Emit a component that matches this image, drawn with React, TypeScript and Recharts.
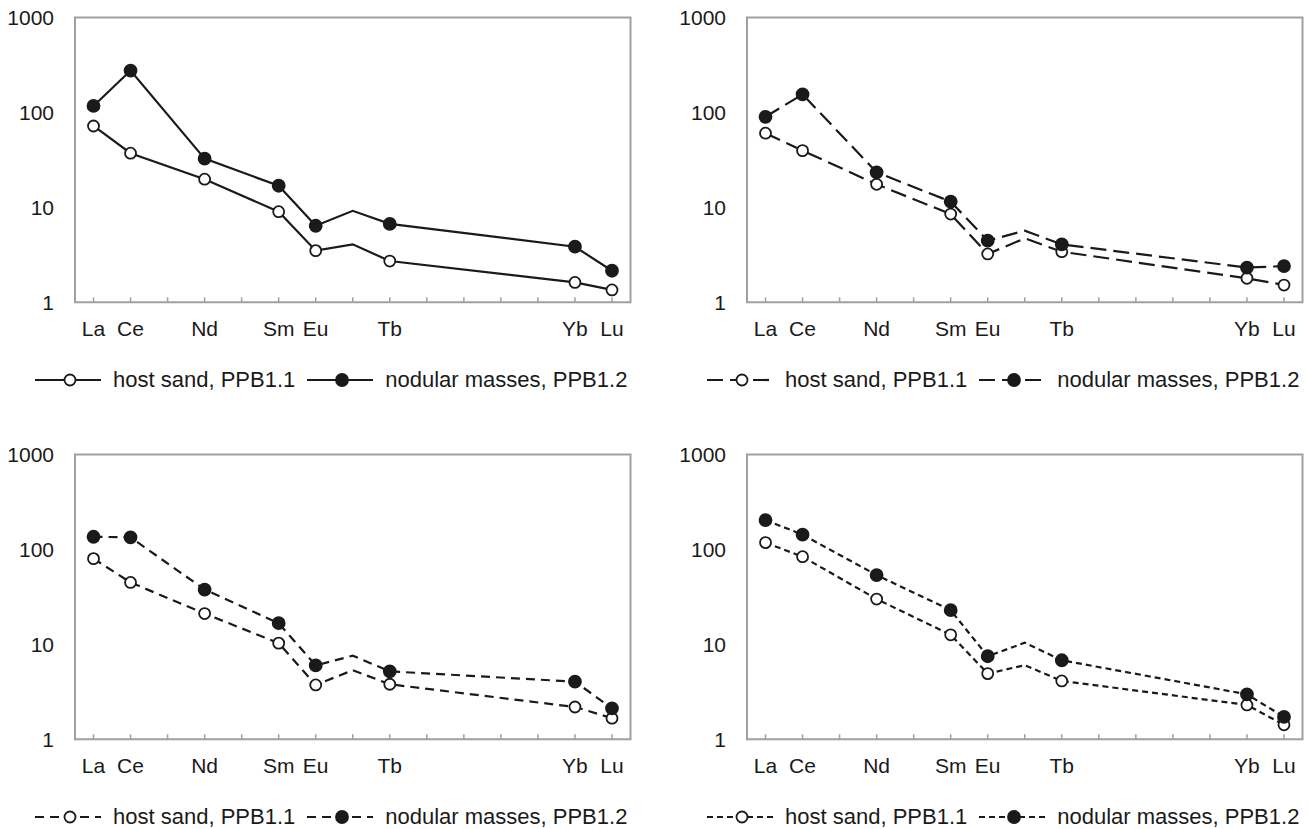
import React from 'react';
import { LineChart, Line, XAxis, YAxis, ReferenceArea, Legend } from 'recharts';

// ---- data ----
const ELEMENTS = ['La', 'Ce', 'Pr', 'Nd', 'Pm', 'Sm', 'Eu', 'Gd', 'Tb', 'Dy', 'Ho', 'Er', 'Tm', 'Yb', 'Lu'];
const TICK_LABELS = ['La', 'Ce', '', 'Nd', '', 'Sm', 'Eu', '', 'Tb', '', '', '', '', 'Yb', 'Lu'];
const Y_TICKS = [1, 10, 100, 1000];
const SERIES_NAMES = ['host sand, PPB1.1', 'nodular masses, PPB1.2'];

const P1_HOST = [72, 37.2, null, 19.8, null, 9.0, 3.5, 4.08, 2.72, null, null, null, null, 1.62, 1.35];
const P1_NOD = [117, 276, null, 32.6, null, 16.9, 6.4, 9.2, 6.7, null, null, null, null, 3.85, 2.15];

const P2_HOST = [60.4, 39.6, null, 17.5, null, 8.5, 3.23, 4.72, 3.41, null, null, null, null, 1.79, 1.52];
const P2_NOD = [90, 155, null, 23.4, null, 11.5, 4.46, 5.68, 4.08, null, null, null, null, 2.32, 2.41];

const P3_HOST = [80, 44.9, null, 21.1, null, 10.3, 3.74, 5.34, 3.8, null, null, null, null, 2.19, 1.67];
const P3_NOD = [136, 134, null, 37.8, null, 16.7, 6.0, 7.6, 5.2, null, null, null, null, 4.05, 2.12];

const P4_HOST = [118, 83.8, null, 30, null, 12.6, 4.92, 6.03, 4.12, null, null, null, null, 2.3, 1.42];
const P4_NOD = [204, 143, null, 53.7, null, 22.9, 7.5, 10.4, 6.8, null, null, null, null, 2.98, 1.72];

// ---- styling ----
const INK = '#1a1a1a';
const FRAME = '#a0a0a0';
const FONT = '"Liberation Sans", Arial, Helvetica, sans-serif';
const CHART_W = 637;
const CHART_H = 392;

type Val = number | null;
type Panel = { host: Val[]; nod: Val[]; dash?: string; left: number; top: number };

const PANELS: Panel[] = [
  { host: P1_HOST, nod: P1_NOD, dash: undefined, left: 0, top: 0 },
  { host: P2_HOST, nod: P2_NOD, dash: '16 7', left: 672, top: 0 },
  { host: P3_HOST, nod: P3_NOD, dash: '9 6', left: 0, top: 436.5 },
  { host: P4_HOST, nod: P4_NOD, dash: '6 4', left: 672, top: 436.5 },
];

const buildRows = (host: Val[], nod: Val[]) =>
  ELEMENTS.map((el, i) => ({ x: i + 1, el, host: host[i], nod: nod[i] }));

const makeDot = (filled: boolean, key: string) => (props: any) => {
  const { cx, cy, index, payload } = props;
  if (cx == null || cy == null || !payload || payload[key] == null || payload.el === 'Gd') {
    return <g key={`e-${key}-${index}`} />;
  }
  return (
    <circle
      key={`d-${key}-${index}`}
      cx={cx}
      cy={cy}
      r={filled ? 6 : 5.5}
      fill={filled ? INK : '#ffffff'}
      stroke={INK}
      strokeWidth={1.8}
    />
  );
};

const XTick = (props: any) => {
  const { x, y, payload } = props;
  const label = TICK_LABELS[payload.value - 1] ?? '';
  return (
    <g>
      <line x1={x} x2={x} y1={y} y2={y - 5} stroke={FRAME} strokeWidth={1.5} />
      {label ? (
        <text x={x} y={y + 34} textAnchor="middle" fontSize={21} fill={INK} fontFamily={FONT}>
          {label}
        </text>
      ) : null}
    </g>
  );
};

const YTick = (props: any) => {
  const { x, y, payload } = props;
  return (
    <text x={x} y={y} dy="0.36em" textAnchor="end" fontSize={21} fill={INK} fontFamily={FONT}>
      {payload.value}
    </text>
  );
};

const LegendIcon = ({ dash, filled }: { dash?: string; filled: boolean }) => (
  <svg width={66} height={20} style={{ display: 'block' }}>
    <line x1={0} x2={66} y1={10} y2={10} stroke={INK} strokeWidth={2.2} strokeDasharray={dash} />
    <circle cx={35} cy={10} r={filled ? 6 : 5.5} fill={filled ? INK : '#ffffff'} stroke={INK} strokeWidth={1.8} />
  </svg>
);

const makeLegend = (dash?: string) => () => (
  <div
    style={{
      display: 'flex',
      alignItems: 'center',
      fontFamily: FONT,
      fontSize: 22,
      color: INK,
      whiteSpace: 'nowrap',
      height: 24,
      lineHeight: '24px',
      paddingLeft: 35,
    }}
  >
    <LegendIcon dash={dash} filled={false} />
    <span style={{ marginLeft: 12, marginRight: 12 }}>{SERIES_NAMES[0]}</span>
    <LegendIcon dash={dash} filled={true} />
    <span style={{ marginLeft: 12 }}>{SERIES_NAMES[1]}</span>
  </div>
);

const PanelChart = ({ p }: { p: Panel }) => {
  const rows = buildRows(p.host, p.nod);
  return (
    <div style={{ position: 'absolute', left: p.left, top: p.top, width: CHART_W, height: CHART_H }}>
      <LineChart
        width={CHART_W}
        height={CHART_H}
        data={rows}
        margin={{ top: 17.5, right: 6.5, bottom: 49.7, left: 0 }}
      >
        <ReferenceArea
          x1={0.5}
          x2={15.5}
          y1={1}
          y2={1000}
          fill="none"
          stroke={FRAME}
          strokeWidth={2}
          ifOverflow="visible"
        />
        <XAxis
          dataKey="x"
          type="number"
          domain={[0.5, 15.5]}
          ticks={ELEMENTS.map((_, i) => i + 1)}
          interval={0}
          allowDataOverflow
          axisLine={false}
          tickLine={false}
          tickSize={0}
          tickMargin={0}
          height={40}
          tick={<XTick />}
        />
        <YAxis
          type="number"
          scale="log"
          domain={[1, 1000]}
          ticks={Y_TICKS}
          allowDataOverflow
          axisLine={false}
          tickLine={false}
          tickSize={0}
          tickMargin={21}
          width={75}
          tick={<YTick />}
        />
        <Legend
          layout="horizontal"
          verticalAlign="middle"
          align="center"
          content={makeLegend(p.dash)}
          wrapperStyle={{ top: 368, left: 0, width: CHART_W, height: 24, bottom: 'auto' }}
        />
        <Line
          dataKey="host"
          name={SERIES_NAMES[0]}
          stroke={INK}
          strokeWidth={2.2}
          strokeDasharray={p.dash}
          connectNulls
          isAnimationActive={false}
          dot={makeDot(false, 'host')}
          activeDot={false}
        />
        <Line
          dataKey="nod"
          name={SERIES_NAMES[1]}
          stroke={INK}
          strokeWidth={2.2}
          strokeDasharray={p.dash}
          connectNulls
          isAnimationActive={false}
          dot={makeDot(true, 'nod')}
          activeDot={false}
        />
      </LineChart>
    </div>
  );
};

export default function App() {
  return (
    <div
      style={{
        position: 'absolute',
        left: 0,
        top: 0,
        width: 1309,
        height: 829,
        overflow: 'hidden',
        background: '#ffffff',
        fontFamily: FONT,
      }}
    >
      {PANELS.map((p, i) => (
        <PanelChart key={i} p={p} />
      ))}
    </div>
  );
}
